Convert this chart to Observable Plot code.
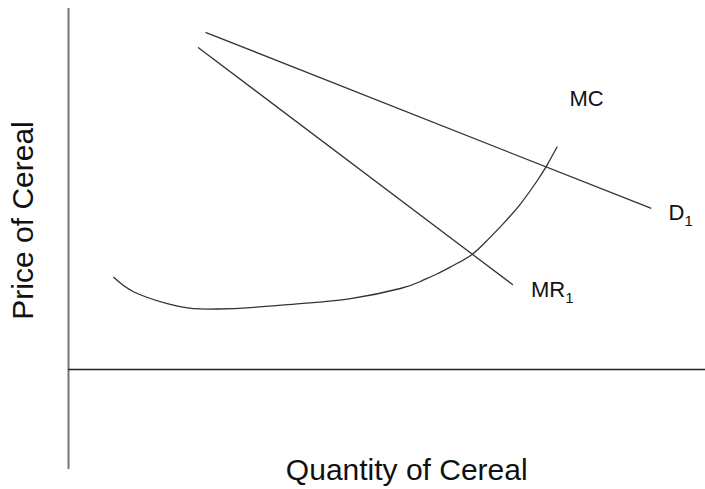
<!DOCTYPE html>
<html>
<head>
<meta charset="utf-8">
<script src="https://cdn.jsdelivr.net/npm/d3@7"></script>
<script src="https://cdn.jsdelivr.net/npm/@observablehq/plot@0.6"></script>
<style>
  html, body { margin: 0; padding: 0; background: #fff; }
  svg { display: block; }
</style>
</head>
<body>
<div id="chart"></div>
<script>
// Demand curve D1 (quantity, price)
const demandQ = [21.6, 91.4];
const demandP = [93.6, 44.8];
// Marginal revenue MR1
const mrQ = [20.4, 69.7];
const mrP = [89.4, 23.6];
// Marginal cost MC (U-shaped curve)
const mcQ = [7.1, 10.2, 15.5, 19.6, 23.4, 28.6, 36.4, 44.3, 52.1, 55.3, 57.9, 60.4, 63.3, 65.7, 68.3, 71.0, 73.6, 75.1, 76.7];
const mcP = [25.6, 21.6, 18.3, 16.9, 16.8, 17.2, 18.3, 19.7, 22.5, 24.5, 26.6, 28.9, 31.9, 35.8, 40.6, 46.1, 52.5, 56.7, 61.8];
// Curve labels
const labelText = ["MC", "D", "MR"];
const labelSub = ["", "1", "1"];
const labelQ = [78.65, 94.2, 72.6];
const labelP = [73.3, 41.4, 20.1];
// Axis titles
const xTitle = "Quantity of Cereal";
const yTitle = "Price of Cereal";

const demand = demandQ.map((q, i) => ({q, p: demandP[i]}));
const mr = mrQ.map((q, i) => ({q, p: mrP[i]}));
const mc = mcQ.map((q, i) => ({q, p: mcP[i]}));
const labels = labelText.map((t, i) => ({t, sub: labelSub[i], q: labelQ[i], p: labelP[i]}));

const chart = Plot.plot({
  width: 705,
  height: 489,
  margin: 0,
  style: {fontFamily: "'Liberation Sans', Arial, sans-serif", background: "#fff"},
  x: {domain: [0, 100], range: [68, 705], axis: null},
  y: {domain: [0, 100], range: [369, 9], axis: null},
  marks: [
    // axes
    Plot.ruleX([0], {y1: -27.8, y2: 100.3, stroke: "#777", strokeWidth: 2}),
    Plot.ruleY([0], {x1: 0, x2: 100, stroke: "#222", strokeWidth: 1.5}),
    // curves
    Plot.line(demand, {x: "q", y: "p", stroke: "#333", strokeWidth: 1.3}),
    Plot.line(mr, {x: "q", y: "p", stroke: "#333", strokeWidth: 1.3}),
    Plot.line(mc, {x: "q", y: "p", stroke: "#333", strokeWidth: 1.3, curve: "natural"}),
    // labels
    Plot.text(labels, {x: "q", y: "p", text: "t", textAnchor: "start", lineAnchor: "bottom",
      fontSize: 22, fill: "#111"}),
    // axis titles
    Plot.text([xTitle], {x: 53.1, y: -30.6, text: d => d, textAnchor: "middle", lineAnchor: "bottom",
      fontSize: 30, fill: "#111"}),
    Plot.text([yTitle], {x: -5.5, y: 41.4, text: d => d, rotate: -90, textAnchor: "middle", lineAnchor: "bottom",
      fontSize: 30, fill: "#111"})
  ]
});

// add subscripts to curve labels
const subFor = new Map(labels.map(l => [l.t, l.sub]));
d3.select(chart).selectAll("text").each(function() {
  const el = d3.select(this);
  if (el.selectAll("tspan").size() > 0) return;
  const sub = subFor.get(el.text());
  if (sub) {
    el.append("tspan").attr("font-size", 15).attr("dy", 6).text(sub);
  }
});

document.getElementById("chart").appendChild(chart);
</script>
</body>
</html>
